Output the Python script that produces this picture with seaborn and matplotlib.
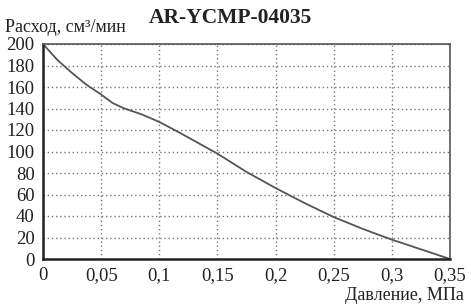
import matplotlib
matplotlib.use("Agg")
import matplotlib.pyplot as plt
import seaborn as sns
import pandas as pd

pressure = [0.0, 0.0125, 0.025, 0.0375, 0.05, 0.06, 0.07, 0.085, 0.1, 0.1175, 0.135, 0.15,
            0.175, 0.2, 0.225, 0.25, 0.275, 0.3, 0.325, 0.35]
flow = [200, 185, 173, 162, 153, 145, 140, 134.5, 127.5, 117.5, 107, 98,
        81, 66, 52, 39, 28, 18, 9, 0]
x_ticks = [0, 0.05, 0.1, 0.15, 0.2, 0.25, 0.3, 0.35]
x_labels = ["0", "0,05", "0,1", "0,15", "0,2", "0,25", "0,3", "0,35"]
y_ticks = [0, 20, 40, 60, 80, 100, 120, 140, 160, 180, 200]
y_labels = [str(v) for v in y_ticks]

sns.set_theme(style="white")
plt.rcParams['font.family'] = ['Liberation Serif', 'DejaVu Serif']

df = pd.DataFrame({"p": pressure, "q": flow})
fig = plt.figure(figsize=(4.71, 3.05), dpi=100)
ax = fig.add_axes([43/471, 1-259/305, (450-43)/471, (259-44)/305])
sns.lineplot(data=df, x="p", y="q", ax=ax, color="#555555", linewidth=1.3)

ax.set_xlim(0, 0.35)
ax.set_ylim(0, 200)
ax.set_xticks(x_ticks)
ax.set_xticklabels(x_labels, fontsize=13.5, color="#222222")
ax.set_yticks(y_ticks)
ax.set_yticklabels(y_labels, fontsize=13.5, color="#222222")
ax.tick_params(axis="x", length=0, pad=6)
ax.tick_params(axis="y", length=0, pad=6)
ax.grid(True, linestyle=(0, (1, 2)), color="#777777", linewidth=1.0)
ax.set_xlabel("")
ax.set_ylabel("")
for side in ["left", "bottom"]:
    ax.spines[side].set_color("#222222")
    ax.spines[side].set_linewidth(1.8)
for side in ["top", "right"]:
    ax.spines[side].set_color("#555555")
    ax.spines[side].set_linewidth(1.2)
    ax.spines[side].set_visible(True)

fig.text(5/471, 1-27/305, "Расход, см³/мин", fontsize=13, ha="left", va="center", color="#222222")
fig.text(230/471, 1-18/305, "AR-YCMP-04035", fontsize=15.5, fontweight="bold", ha="center", va="center", color="#222222")
fig.text(464/471, 1-296/305, "Давление, МПа", fontsize=13, ha="right", va="center", color="#222222")

fig.savefig("out.png", dpi=100)
